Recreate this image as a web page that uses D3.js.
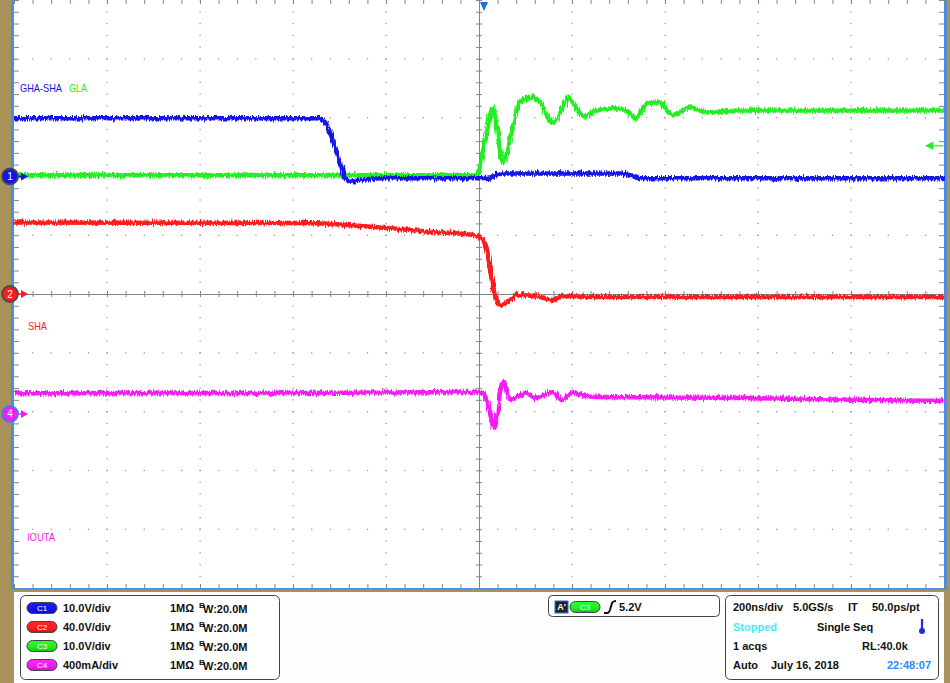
<!DOCTYPE html>
<html>
<head>
<meta charset="utf-8">
<script src="https://cdn.jsdelivr.net/npm/d3@7"></script>
<style>
  body { margin: 0; background: #fff; }
  svg { display: block; font-family: "Liberation Sans", Arial, sans-serif; }
</style>
</head>
<body>
<svg id="scope" width="950" height="683"></svg>
<script>
/* trace key points: [time in ns, value in V or A] */
var ghaShaPts = [[-1000, 9.9], [-346, 9.9], [-331, 9.2], [-314, 6.1], [-299, 2.4], [-288, -0.3], [-277, -0.9],
  [-260, -0.7], [-213, -0.3], [2, -0.3], [24, -0.2], [39, 0.3], [56, 0.5], [303, 0.5], [325, 0.2], [346, -0.3], [1000, -0.3]]
var glaPts = [[-1000, 0.2], [-4, 0.2], [13, 6.1], [30, 11.6], [52, 2.4], [73, 8.5], [88, 12.7], [116, 13.4], [131, 12.6],
  [159, 9.1], [178, 11.3], [191, 13.4], [211, 11.3], [228, 10.2], [245, 11.0], [288, 11.6], [318, 11.2], [335, 9.8],
  [361, 12.4], [389, 12.6], [415, 10.4], [454, 11.7], [490, 10.9], [560, 11.2], [1000, 11.2]]
var shaPts = [[-1000, 48.6], [-385, 48.3], [-198, 44.9], [-99, 42.2], [-13, 40.1], [2, 38.8], [17, 29.9], [30, 4.8],
  [49, -7.5], [67, -4.1], [82, -0.7], [131, -2.0], [157, -4.1], [181, -1.4], [250, -2.0], [1000, -2.0]]
var ioutaPts = [[-1000, 0.14], [-385, 0.143], [2, 0.15], [17, 0.095], [24, 0.007], [32, -0.095], [39, -0.02], [45, 0.143],
  [52, 0.218], [60, 0.163], [67, 0.095], [77, 0.109], [90, 0.13], [103, 0.143], [120, 0.109], [140, 0.13], [161, 0.15],
  [178, 0.095], [202, 0.143], [230, 0.12], [260, 0.116], [561, 0.109], [690, 0.102], [1000, 0.088]]

/* channel setup: name, scale per div, ground position in divisions, colour */
var chNames = ['C1', 'C2', 'C3', 'C4']
var chScale = [10, 40, 10, 0.4]
var chPos = [2.0, 0, 2.0, -2.04]
var chColors = ['#1414e6', '#ff1c1c', '#22ee22', '#f51cf5']
var chScaleText = ['10.0V/div', '40.0V/div', '10.0V/div', '400mA/div']
var chTraces = [ghaShaPts, shaPts, glaPts, ioutaPts]
var drawOrder = [3, 1, 2, 0]

var traceLabels = [
  { text: 'GHA-SHA', ch: 0, x: 20, y: 92, w: 42 },
  { text: 'GLA', ch: 2, x: 69, y: 92, w: 18 },
  { text: 'SHA', ch: 1, x: 28, y: 330, w: 19 },
  { text: 'IOUTA', ch: 3, x: 27, y: 541, w: 28 }
]

var timeText = ['200ns/div', '5.0GS/s', 'IT', '50.0ps/pt']
var triggerLevel = 5.2

var svg = d3.select('#scope')
var plotLeft = 14, plotRight = 944, plotTop = 0, plotBottom = 588

var x = d3.scaleLinear().domain([-1000, 1000]).range([plotLeft, plotRight])
var yDiv = d3.scaleLinear().domain([-5, 5]).range([plotBottom, plotTop])
var xDiv = d3.scaleLinear().domain([-5, 5]).range([plotLeft, plotRight])

function yFor(ch) {
  return function(v) { return yDiv(v / chScale[ch] + chPos[ch]) }
}

/* frame */
svg.append('rect').attr('width', 950).attr('height', 683).attr('fill', '#fdfdfd')
svg.append('rect').attr('x', 0).attr('y', 0).attr('width', 950).attr('height', 592).attr('fill', '#a8925a')
svg.append('rect').attr('x', 0).attr('y', 592).attr('width', 14).attr('height', 91).attr('fill', '#a8925a')
svg.append('rect').attr('x', 944).attr('y', 592).attr('width', 6).attr('height', 91).attr('fill', '#a8925a')
svg.append('rect').attr('x', 14).attr('y', 592).attr('width', 930).attr('height', 91).attr('fill', '#fdfdfd')
svg.append('rect').attr('x', plotLeft - 1.5).attr('y', plotTop - 1.5).attr('width', plotRight - plotLeft + 3).attr('height', plotBottom - plotTop + 3)
  .attr('fill', '#fff').attr('stroke', '#4a8ee6').attr('stroke-width', 3)

var defs = svg.append('defs')
var noise = defs.append('filter').attr('id', 'noise').attr('x', '-1%').attr('y', '-20%').attr('width', '102%').attr('height', '140%')
noise.append('feTurbulence').attr('type', 'fractalNoise').attr('baseFrequency', '0.9 0.08').attr('numOctaves', 2).attr('seed', 3).attr('result', 't')
noise.append('feDisplacementMap').attr('in', 'SourceGraphic').attr('in2', 't').attr('scale', 6)
  .attr('xChannelSelector', 'R').attr('yChannelSelector', 'G')

/* graticule dots */
var grid = svg.append('g').attr('fill', '#8a8f99')
var minorX = d3.range(-25, 26).map(function(i) { return i / 5 })
var majors = d3.range(-4, 5)
majors.forEach(function(d) {
  if (d == 0) return
  grid.selectAll(null).data(minorX).enter().append('rect')
    .attr('x', function(m) { return xDiv(m) - 0.5 }).attr('y', yDiv(d) - 0.5).attr('width', 1.2).attr('height', 1.2)
  grid.selectAll(null).data(minorX).enter().append('rect')
    .attr('x', xDiv(d) - 0.5).attr('y', function(m) { return yDiv(m) - 0.5 }).attr('width', 1.2).attr('height', 1.2)
})

/* edge ticks and centre crosshair drawn with axes */
function tickAxis(axis, scale, size) {
  return axis(scale).tickValues(minorX).tickSize(size).tickFormat('')
}
function styleAxis(g, showDomain) {
  g.selectAll('line').attr('stroke', '#7d8594')
  g.select('.domain').attr('stroke', showDomain ? '#7d8594' : 'none')
}
svg.append('g').attr('transform', 'translate(0,' + plotTop + ')').call(tickAxis(d3.axisBottom, xDiv, 4)).call(styleAxis, false)
svg.append('g').attr('transform', 'translate(0,' + plotBottom + ')').call(tickAxis(d3.axisTop, xDiv, 4)).call(styleAxis, false)
svg.append('g').attr('transform', 'translate(' + plotLeft + ',0)').call(tickAxis(d3.axisRight, yDiv, 5)).call(styleAxis, false)
svg.append('g').attr('transform', 'translate(' + plotRight + ',0)').call(tickAxis(d3.axisLeft, yDiv, 5)).call(styleAxis, false)
svg.append('g').attr('transform', 'translate(0,' + yDiv(0) + ')').call(tickAxis(d3.axisBottom, xDiv, 3).tickSizeOuter(0)).call(styleAxis, true)
svg.append('g').attr('transform', 'translate(0,' + yDiv(0) + ')').call(tickAxis(d3.axisTop, xDiv, 3).tickSizeOuter(0)).call(styleAxis, true)
svg.append('g').attr('transform', 'translate(' + xDiv(0) + ',0)').call(tickAxis(d3.axisRight, yDiv, 3).tickSizeOuter(0)).call(styleAxis, true)
svg.append('g').attr('transform', 'translate(' + xDiv(0) + ',0)').call(tickAxis(d3.axisLeft, yDiv, 3).tickSizeOuter(0)).call(styleAxis, true)

/* traces, drawn C4, C2, C3, C1 so blue sits on top like the scope */
var plot = svg.append('g')
drawOrder.forEach(function(ch) {
  var line = d3.line()
    .x(function(d) { return x(d[0]) })
    .y(function(d) { return yFor(ch)(d[1]) })
    .curve(d3.curveMonotoneX)
  plot.append('path').datum(chTraces[ch])
    .attr('d', line).attr('fill', 'none')
    .attr('stroke', chColors[ch]).attr('stroke-width', 4.5).attr('stroke-linejoin', 'round')
    .attr('filter', 'url(#noise)')
})

/* trace labels */
svg.selectAll('.lbl').data(traceLabels).enter().append('text')
  .attr('x', function(d) { return d.x }).attr('y', function(d) { return d.y })
  .attr('fill', function(d) { return chColors[d.ch] })
  .attr('textLength', function(d) { return d.w }).attr('lengthAdjust', 'spacingAndGlyphs')
  .style('font-size', '11px')
  .text(function(d) { return d.text })

/* ground markers on the left */
var markers = [{ ch: 0, n: '1' }, { ch: 1, n: '2' }, { ch: 3, n: '4' }]
var mk = svg.selectAll('.mk').data(markers).enter().append('g')
  .attr('transform', function(d) { return 'translate(10,' + yDiv(chPos[d.ch]) + ')' })
mk.append('path').attr('d', 'M6,0 L14,0').attr('stroke', function(d) { return chColors[d.ch] }).attr('stroke-width', 1.5)
mk.append('path').attr('d', 'M11,-4 L18,0 L11,4 Z').attr('fill', function(d) { return chColors[d.ch] })
mk.append('circle').attr('r', 8)
  .attr('fill', function(d) { return chColors[d.ch] })
  .attr('stroke', function(d) { return d.ch == 3 ? '#3c7df0' : '#4a4a4a' }).attr('stroke-width', 1.8)
mk.append('text').attr('text-anchor', 'middle').attr('dy', '0.35em').attr('fill', '#fff')
  .style('font-size', '10px').text(function(d) { return d.n })

/* trigger position and level */
svg.append('path').attr('d', 'M480,2 L488,2 L484,11 Z').attr('fill', '#1c6fe6')
var tY = yFor(2)(triggerLevel)
svg.append('path').attr('d', 'M932,' + tY + ' L943,' + tY).attr('stroke', '#22ee22').attr('stroke-width', 1.2)
svg.append('path').attr('d', 'M925,' + tY + ' L933,' + (tY - 4) + ' L933,' + (tY + 4) + ' Z').attr('fill', '#22ee22')

/* tan separator under the plot */
svg.append('rect').attr('x', 0).attr('y', 589.5).attr('width', 950).attr('height', 2).attr('fill', '#a8925a')

/* pill badge helper */
var grads = {}
function pill(g, cx, cy, ch) {
  var id = 'grad' + ch
  if (!grads[id]) {
    var gr = defs.append('linearGradient').attr('id', id).attr('x1', 0).attr('x2', 0).attr('y1', 0).attr('y2', 1)
    gr.append('stop').attr('offset', '0%').attr('stop-color', d3.color(chColors[ch]).brighter(0.9))
    gr.append('stop').attr('offset', '55%').attr('stop-color', chColors[ch])
    gr.append('stop').attr('offset', '100%').attr('stop-color', d3.color(chColors[ch]).darker(0.6))
    grads[id] = true
  }
  g.append('rect').attr('x', cx - 15).attr('y', cy - 5.5).attr('width', 30).attr('height', 11).attr('rx', 5.5)
    .attr('fill', 'url(#' + id + ')').attr('stroke', '#444').attr('stroke-width', 1)
  g.append('text').attr('x', cx).attr('y', cy).attr('dy', '0.35em').attr('text-anchor', 'middle')
    .attr('fill', '#fff').style('font-size', '8px').text(chNames[ch])
}

/* channel settings box */
var chBox = svg.append('g')
chBox.append('rect').attr('x', 20.5).attr('y', 595.5).attr('width', 259).attr('height', 84).attr('rx', 5)
  .attr('fill', '#fff').attr('stroke', '#444')
chNames.forEach(function(name, i) {
  var cy = 608 + i * 19
  pill(chBox, 42, cy, i)
  var row = chBox.append('g').style('font-size', '11px').style('font-weight', 'bold').attr('fill', '#111')
  row.append('text').attr('x', 63).attr('y', cy).attr('dy', '0.35em').text(chScaleText[i])
  row.append('text').attr('x', 170).attr('y', cy).attr('dy', '0.35em').text('1MΩ')
  row.append('text').attr('x', 199).attr('y', cy - 3).attr('dy', '0.35em').style('font-size', '8px').text('B')
  row.append('text').attr('x', 203).attr('y', cy + 1).attr('dy', '0.35em').text('W:20.0M')
})

/* trigger box */
var trg = svg.append('g')
trg.append('rect').attr('x', 548.5).attr('y', 595.5).attr('width', 171).attr('height', 21).attr('rx', 4)
  .attr('fill', '#fff').attr('stroke', '#444')
trg.append('rect').attr('x', 555).attr('y', 601).attr('width', 13).attr('height', 12).attr('fill', '#222')
  .attr('stroke', '#2d6fe0').attr('stroke-width', 1)
trg.append('text').attr('x', 561.5).attr('y', 607).attr('dy', '0.35em').attr('text-anchor', 'middle')
  .attr('fill', '#fff').style('font-size', '9px').style('font-weight', 'bold').text("A'")
pill(trg, 585, 607, 2)
trg.append('path').attr('d', 'M604,613 L607,613 Q609,613 610,610 L612,603 Q613,601 616,601')
  .attr('fill', 'none').attr('stroke', '#111').attr('stroke-width', 2)
trg.append('text').attr('x', 619).attr('y', 607).attr('dy', '0.35em').style('font-size', '11px').style('font-weight', 'bold')
  .attr('fill', '#111').text(triggerLevel.toFixed(1) + 'V')

/* acquisition box */
var acq = svg.append('g').style('font-size', '11px').style('font-weight', 'bold').attr('fill', '#111')
acq.append('rect').attr('x', 725.5).attr('y', 595.5).attr('width', 213).attr('height', 84).attr('rx', 5)
  .attr('fill', '#fff').attr('stroke', '#444')
var timeX = [733, 793, 848, 872]
timeText.forEach(function(t, i) {
  acq.append('text').attr('x', timeX[i]).attr('y', 607).attr('dy', '0.35em').text(t)
})
acq.append('text').attr('x', 733).attr('y', 627).attr('dy', '0.35em').attr('fill', '#3ff0f5').text('Stopped')
acq.append('text').attr('x', 817).attr('y', 627).attr('dy', '0.35em').text('Single Seq')
acq.append('path').attr('d', 'M922,619 L922,630').attr('stroke', '#1a2ee0').attr('stroke-width', 2.2)
acq.append('circle').attr('cx', 922).attr('cy', 631).attr('r', 3).attr('fill', '#1a2ee0')
acq.append('text').attr('x', 733).attr('y', 646).attr('dy', '0.35em').text('1 acqs')
acq.append('text').attr('x', 862).attr('y', 646).attr('dy', '0.35em').text('RL:40.0k')
acq.append('text').attr('x', 733).attr('y', 665).attr('dy', '0.35em').text('Auto')
acq.append('text').attr('x', 771).attr('y', 665).attr('dy', '0.35em').text('July 16, 2018')
acq.append('text').attr('x', 887).attr('y', 665).attr('dy', '0.35em').attr('fill', '#2f86ff').text('22:48:07')
</script>
</body>
</html>
